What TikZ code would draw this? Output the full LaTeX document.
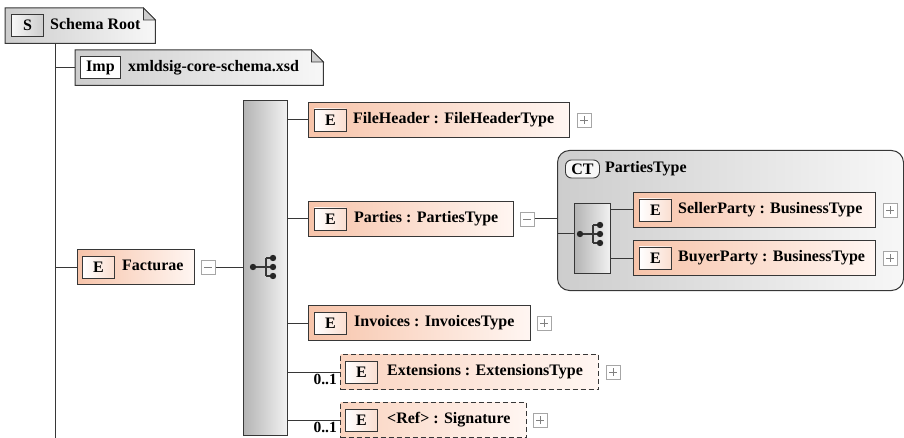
\documentclass[tikz,border=0pt]{standalone}
\usepackage{fontspec}
\setmainfont{Liberation Serif}
\definecolor{salL}{RGB}{247,196,170}
\definecolor{salR}{RGB}{255,246,242}
\definecolor{salDL}{RGB}{250,212,192}
\definecolor{grL}{RGB}{205,205,205}
\definecolor{grR}{RGB}{247,247,247}
\definecolor{seqL}{RGB}{180,180,180}
\definecolor{seqR}{RGB}{242,242,242}
\definecolor{ln}{RGB}{55,55,55}
\newcommand\lblfont{\fontsize{16}{19}\selectfont\bfseries}
\newcommand\multfont{\fontsize{15.5}{18}\selectfont\bfseries}
\tikzset{
 boxline/.style={draw=ln, line width=1pt},
 conn/.style={draw=ln, line width=1pt},
 elem/.style={boxline, left color=salL, right color=salR, minimum height=35, inner sep=0pt, anchor=west},
 optelem/.style={elem, dash pattern=on 5pt off 3pt, left color=salDL, right color=salR},
 etag/.style={draw=ln, line width=0.9pt, left color=white, right color=salL!55, minimum width=32, minimum height=22, inner sep=0pt, anchor=west, font=\lblfont},
 lbl/.style={anchor=west, inner sep=0pt, font=\lblfont, text height=11, text depth=3.5},
 mult/.style={inner sep=0pt, font=\multfont},
 pmbox/.style={draw=gray!70, line width=0.8pt, fill=white, minimum width=14, minimum height=14, inner sep=0pt, anchor=west},
 minusbox/.style={pmbox, path picture={\draw[gray, line width=0.9pt] ([xshift=3]path picture bounding box.west) -- ([xshift=-3]path picture bounding box.east);}},
 plusbox/.style={pmbox, path picture={\draw[gray, line width=0.9pt] ([xshift=3]path picture bounding box.west) -- ([xshift=-3]path picture bounding box.east) ([yshift=-3]path picture bounding box.north) -- ([yshift=3]path picture bounding box.south);}},
 seqbox/.style={boxline, left color=seqL, right color=seqR, inner sep=0pt, anchor=north west},
 ctbox/.style={boxline, left color=grL, right color=grR, rounded corners=12, inner sep=0pt, anchor=north west},
 anchorbox/.style={draw=none, inner sep=0pt, anchor=north west},
}
\newcommand\foldshape[1]{%
 \shade[left color=grL, right color=grR] (#1.north west) -- ([xshift=-12]#1.north east) -- ([yshift=-12]#1.north east) -- (#1.south east) -- (#1.south west) -- cycle;
 \draw[boxline] (#1.north west) -- ([xshift=-12]#1.north east) -- ([yshift=-12]#1.north east) -- (#1.south east) -- (#1.south west) -- cycle;
 \draw[draw=ln, line width=0.7pt, fill=grL] ([xshift=-12]#1.north east) -- ([xshift=-12,yshift=-12]#1.north east) -- ([yshift=-12]#1.north east) -- cycle;}
\newcommand\seqicon[1]{%
 \draw[ln, line width=1.3pt] ([xshift=-12]#1) -- ([xshift=1]#1)
   ([xshift=1,yshift=9]#1) -- ([xshift=1,yshift=-9]#1)
   ([xshift=1,yshift=9]#1) -- ([xshift=8,yshift=9]#1)
   ([xshift=1]#1) -- ([xshift=8]#1)
   ([xshift=1,yshift=-9]#1) -- ([xshift=8,yshift=-9]#1);
 \fill[black!85] ([xshift=-12]#1) circle (3.2pt) ([xshift=8,yshift=9]#1) circle (3.2pt) ([xshift=8]#1) circle (3.2pt) ([xshift=8,yshift=-9]#1) circle (3.2pt);}
\begin{document}
\begin{tikzpicture}[x=1pt,y=-1pt]
\useasboundingbox (0,0) rectangle (904,438);
% schema root
\node[anchorbox, minimum width=150, minimum height=35] (root) at (5,8) {};
\foldshape{root}
\node[etag, left color=grR, right color=grL] (rootS) at ([xshift=6]root.west) {S};
\node[lbl] (rootL) at ([xshift=45]root.west) {Schema Root};
% trunk
\coordinate (trunk) at (55,438);
\draw[conn] (root.south -| trunk) -- (trunk);
% import
\node[anchorbox, minimum width=248, minimum height=35] (imp) at (75,50) {};
\foldshape{imp}
\node[etag, left color=white, right color=white, minimum width=40] (impT) at ([xshift=5]imp.west) {Imp};
\node[lbl] (impL) at ([xshift=53]imp.west) {xmldsig-core-schema.xsd};
\draw[conn] (imp.west -| trunk) -- (imp.west);
% Facturae
\node[elem, minimum width=117] (fa) at (77,267) {};
\node[etag] (faE) at ([xshift=5]fa.west) {E};
\node[lbl] (faL) at ([xshift=45]fa.west) {Facturae};
\node[minusbox] (faM) at ([xshift=6]fa.east) {};
\draw[conn] (fa.west -| trunk) -- (fa.west);
% sequence
\node[seqbox, minimum width=44, minimum height=335] (seq) at (243,100) {};
\coordinate (ic1) at (265,267);
\seqicon{ic1}
\draw[conn] (faM.east) -- (seq.west |- faM.east);
% FileHeader
\node[elem, minimum width=261] (fh) at (308,120) {};
\node[etag] (fhE) at ([xshift=6]fh.west) {E};
\node[lbl] (fhL) at ([xshift=45]fh.west) {FileHeader : FileHeaderType};
\node[plusbox] (fhP) at ([xshift=7]fh.east) {};
\draw[conn] (seq.east |- fh.west) -- (fh.west);
% Parties
\node[elem, minimum width=205] (pa) at (308,219) {};
\node[etag] (paE) at ([xshift=6]pa.west) {E};
\node[lbl] (paL) at ([xshift=46]pa.west) {Parties : PartiesType};
\node[minusbox] (paM) at ([xshift=6]pa.east) {};
\draw[conn] (seq.east |- pa.west) -- (pa.west);
% Invoices
\node[elem, minimum width=222] (inv) at (308,323) {};
\node[etag] (invE) at ([xshift=6]inv.west) {E};
\node[lbl] (invL) at ([xshift=46]inv.west) {Invoices : InvoicesType};
\node[plusbox] (invP) at ([xshift=6]inv.east) {};
\draw[conn] (seq.east |- inv.west) -- (inv.west);
% Extensions
\node[optelem, minimum width=258] (ext) at (340,372) {};
\node[etag] (extE) at ([xshift=5]ext.west) {E};
\node[lbl] (extL) at ([xshift=47]ext.west) {Extensions : ExtensionsType};
\node[plusbox] (extP) at ([xshift=7]ext.east) {};
\draw[conn] (seq.east |- ext.west) -- (ext.west);
\node[mult, anchor=north east] (extM) at ([xshift=-3,yshift=-2]ext.west) {0..1};
% Signature
\node[optelem, minimum width=186] (sig) at (340,420) {};
\node[etag] (sigE) at ([xshift=5]sig.west) {E};
\node[lbl] (sigL) at ([xshift=47]sig.west) {<Ref> : Signature};
\node[plusbox] (sigP) at ([xshift=6]sig.east) {};
\draw[conn] (seq.east |- sig.west) -- (sig.west);
\node[mult, anchor=north east] (sigM) at ([xshift=-3,yshift=-2]sig.west) {0..1};
% PartiesType complex type
\node[ctbox, minimum width=346, minimum height=140] (ct) at (557,150) {};
\draw[conn] (paM.east) -- (ct.west |- paM.east);
\node[draw=ln, line width=0.9pt, fill=grR, rounded corners=6, minimum width=34, minimum height=18, inner sep=0pt, anchor=west, font=\lblfont] (ctT) at (565,169) {CT};
\node[lbl] (ctL) at (605,169) {PartiesType};
\node[seqbox, minimum width=36, minimum height=70] (seq2) at (574,203) {};
\coordinate (ic2) at (592,234);
\seqicon{ic2}
\draw[conn] (ct.west |- ic2) -- (seq2.west |- ic2);
% SellerParty
\node[elem, minimum width=242] (sp) at (633,210) {};
\node[etag] (spE) at ([xshift=6]sp.west) {E};
\node[lbl] (spL) at ([xshift=45]sp.west) {SellerParty : BusinessType};
\node[plusbox] (spP) at ([xshift=7]sp.east) {};
\draw[conn] (seq2.east |- sp.west) -- (sp.west);
% BuyerParty
\node[elem, minimum width=242] (bp) at (633,258) {};
\node[etag] (bpE) at ([xshift=6]bp.west) {E};
\node[lbl] (bpL) at ([xshift=45]bp.west) {BuyerParty : BusinessType};
\node[plusbox] (bpP) at ([xshift=7]bp.east) {};
\draw[conn] (seq2.east |- bp.west) -- (bp.west);
\end{tikzpicture}
\end{document}
